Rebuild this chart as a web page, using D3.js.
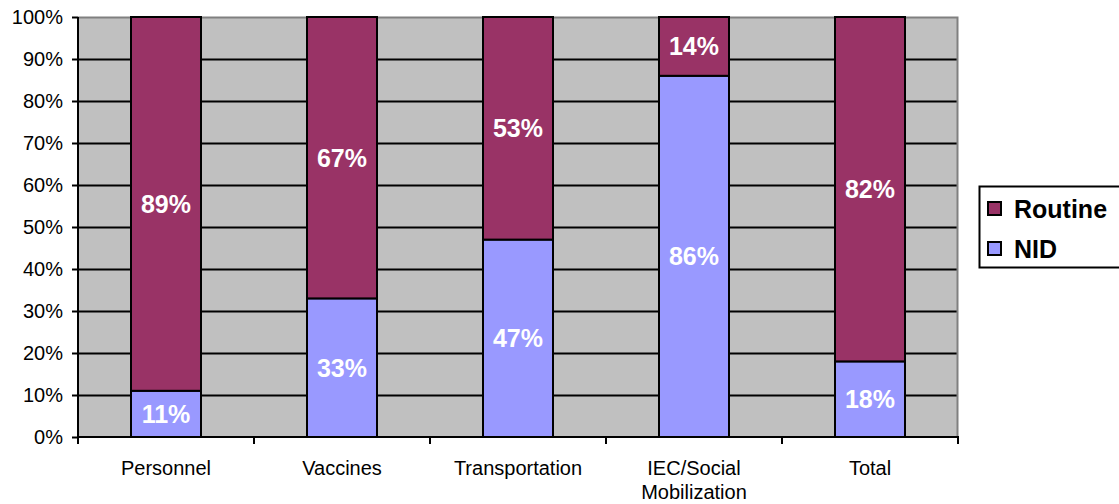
<!DOCTYPE html>
<html>
<head>
<meta charset="utf-8">
<script src="https://cdn.jsdelivr.net/npm/d3@7"></script>
<style>
  html, body { margin: 0; padding: 0; background: #fff; }
  svg { display: block; font-family: "Liberation Sans", Arial, sans-serif; }
</style>
</head>
<body>
<svg id="chart" width="1119" height="504"></svg>
<script>
// Share of cost by category, split between routine immunization and NIDs
const categories = ["Personnel", "Vaccines", "Transportation", "IEC/Social\nMobilization", "Total"];
const nidValues = [11, 33, 47, 86, 18];
const routineValues = [89, 67, 53, 14, 82];
const seriesNames = ["NID", "Routine"];
const seriesColors = { "NID": "#9999FF", "Routine": "#993366" };
const yTicks = [0, 10, 20, 30, 40, 50, 60, 70, 80, 90, 100];

const rows = categories.map((c, i) => ({ category: c, NID: nidValues[i], Routine: routineValues[i] }));

const svg = d3.select("#chart");
const margin = { left: 78, right: 161, top: 17, bottom: 67 };
const W = 1119, H = 504;
const x0 = margin.left, x1 = W - margin.right, y0 = H - margin.bottom, y1 = margin.top;

const x = d3.scaleBand().domain(categories).range([x0, x1]).paddingInner(0).paddingOuter(0);
const y = d3.scaleLinear().domain([0, 100]).range([y0, y1]);
const barW = 70;

// plot background
svg.append("rect")
  .attr("x", x0).attr("y", y1).attr("width", x1 - x0).attr("height", y0 - y1)
  .attr("fill", "#C0C0C0");

// horizontal gridlines
svg.append("g").selectAll("line")
  .data(yTicks.filter(t => t > 0 && t < 100))
  .join("line")
  .attr("x1", x0).attr("x2", x1)
  .attr("y1", d => Math.round(y(d)) + 0.5).attr("y2", d => Math.round(y(d)) + 0.5)
  .attr("stroke", "#000").attr("stroke-width", 2);

// plot frame (top and right in gray)
svg.append("path")
  .attr("d", `M${x0},${y1 + 0.5}H${x1 - 0.5}V${y0}`)
  .attr("fill", "none").attr("stroke", "#808080").attr("stroke-width", 2);

// stacked bars
const stack = d3.stack().keys(seriesNames)(rows);
const layers = svg.append("g").selectAll("g")
  .data(stack)
  .join("g")
  .attr("fill", d => seriesColors[d.key]);

layers.selectAll("rect")
  .data(d => d)
  .join("rect")
  .attr("x", d => x(d.data.category) + x.bandwidth() / 2 - barW / 2)
  .attr("y", d => y(d[1]))
  .attr("width", barW)
  .attr("height", d => y(d[0]) - y(d[1]))
  .attr("stroke", "#000").attr("stroke-width", 2);

// value labels centred in each segment
layers.selectAll("text")
  .data(d => d.map(v => ({ v, key: d.key })))
  .join("text")
  .attr("x", d => x(d.v.data.category) + x.bandwidth() / 2)
  .attr("y", d => (y(d.v[0]) + y(d.v[1])) / 2)
  .attr("dy", "0.36em")
  .attr("text-anchor", "middle")
  .attr("fill", "#fff")
  .attr("font-weight", "bold")
  .attr("font-size", 25)
  .text(d => d.v.data[d.key] + "%");

// y axis
const yAxis = svg.append("g")
  .attr("transform", `translate(${x0},0)`)
  .call(d3.axisLeft(y).tickValues(yTicks).tickFormat(d => d + "%").tickSize(6).tickPadding(9));
yAxis.select(".domain").attr("stroke", "#000").attr("stroke-width", 2).attr("d", `M0,${y1}V${y0}`);
yAxis.selectAll(".tick line").attr("stroke", "#000").attr("stroke-width", 2);
yAxis.selectAll(".tick text").attr("font-size", 20).attr("fill", "#000")
  .attr("font-family", "Liberation Sans, Arial, sans-serif");

// x axis with ticks between categories
const xAxisG = svg.append("g").attr("transform", `translate(0,${y0})`);
xAxisG.append("line")
  .attr("x1", x0 - 1).attr("x2", x1 + 1).attr("y1", 0).attr("y2", 0)
  .attr("stroke", "#000").attr("stroke-width", 2);
const boundaries = categories.map(c => x(c)).concat([x1]);
xAxisG.selectAll("line.tick")
  .data(boundaries)
  .join("line")
  .attr("class", "tick")
  .attr("x1", d => d).attr("x2", d => d)
  .attr("y1", 0).attr("y2", 7)
  .attr("stroke", "#000").attr("stroke-width", 2);

xAxisG.selectAll("text")
  .data(categories)
  .join("text")
  .attr("text-anchor", "middle")
  .attr("font-size", 20)
  .attr("fill", "#000")
  .each(function (d) {
    const t = d3.select(this);
    d.split("\n").forEach((line, i) => {
      t.append("tspan")
        .attr("x", x(d) + x.bandwidth() / 2)
        .attr("y", 38 + i * 24)
        .text(line);
    });
  });

// legend
const legend = svg.append("g").attr("transform", "translate(979,186)");
legend.append("rect")
  .attr("x", 0.5).attr("y", 0.5).attr("width", 150).attr("height", 81)
  .attr("fill", "#fff").attr("stroke", "#000").attr("stroke-width", 2);
const legendItems = ["Routine", "NID"];
legendItems.forEach((k, i) => {
  const g = legend.append("g").attr("transform", `translate(9,${16 + i * 40})`);
  g.append("rect").attr("width", 13).attr("height", 13)
    .attr("fill", seriesColors[k]).attr("stroke", "#000").attr("stroke-width", 2);
  g.append("text").attr("x", 26).attr("y", 6.5).attr("dy", "0.36em")
    .attr("font-size", 25).attr("font-weight", "bold").attr("fill", "#000")
    .text(k);
});
</script>
</body>
</html>
